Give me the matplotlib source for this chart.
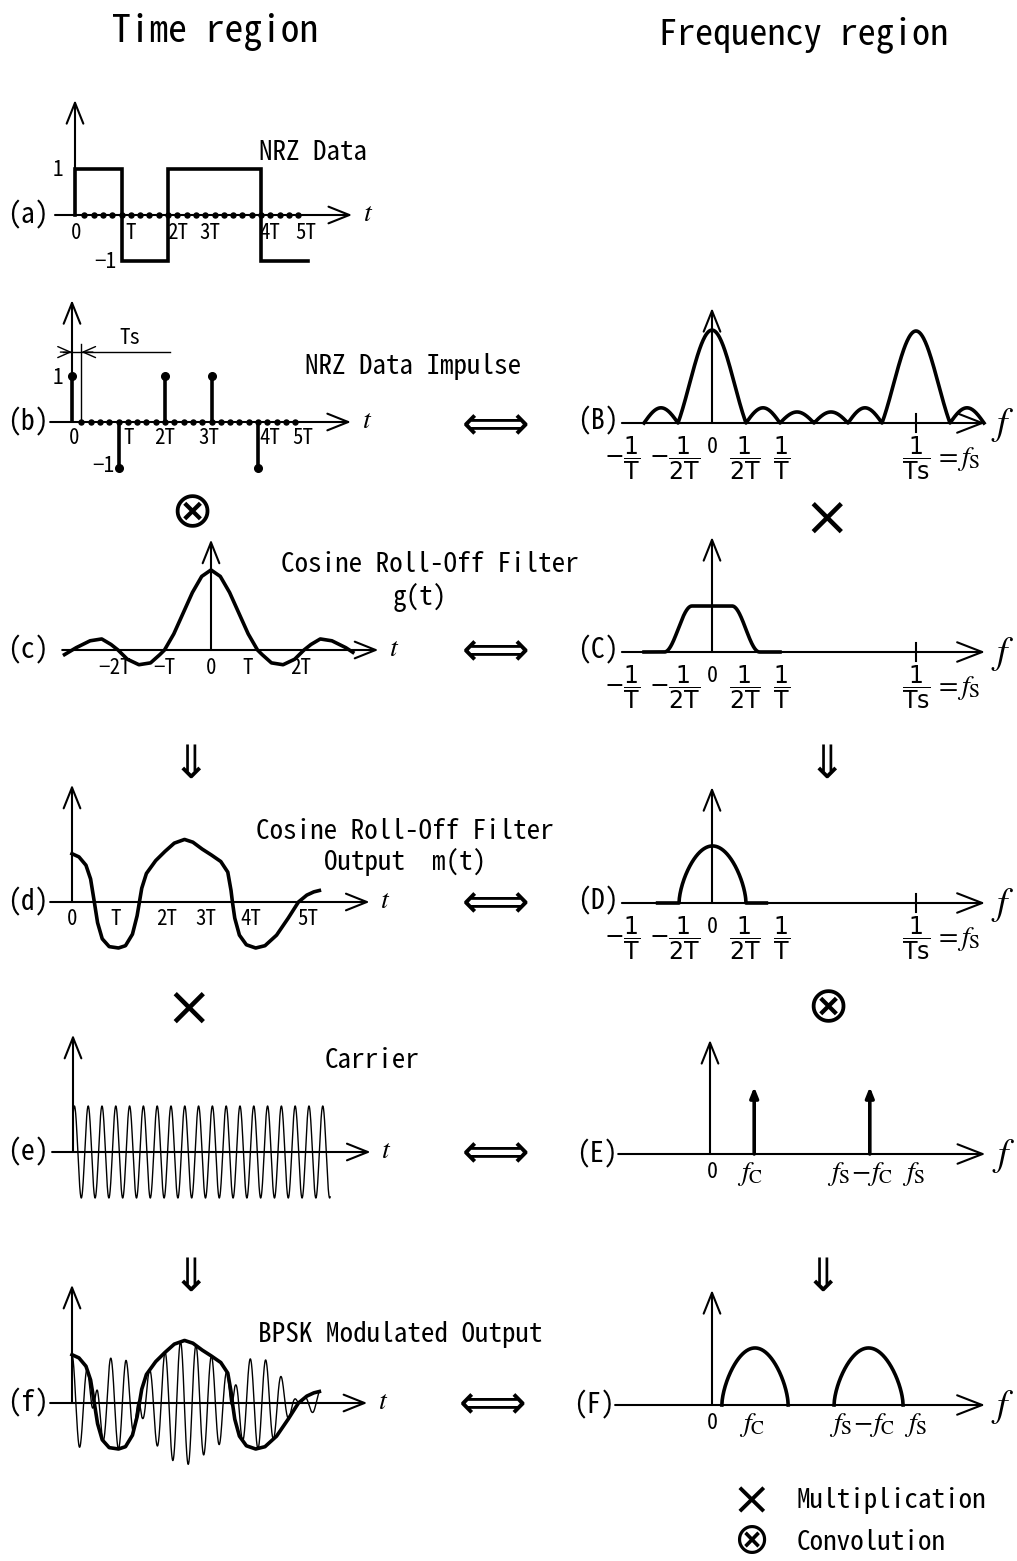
import numpy as np
import matplotlib
matplotlib.use("Agg")
import matplotlib.pyplot as plt

# ---------------- data ----------------
# NRZ symbols, one per period T
nrz_bits = [1, -1, 1, 1, -1]
samples_per_symbol = 5          # Ts = T / 5
sample_count = 24               # sample instants marked on the time axis

time_ticks = [0, 1, 2, 3, 4, 5]
time_tick_labels = ['0', 'T', '2T', '3T', '4T', '5T']
g_ticks = [-2, -1, 0, 1, 2]
g_tick_labels = ['\u22122T', '\u2212T', '0', 'T', '2T']

# cosine roll-off impulse response g(t), t in units of T
g_t = [-3.15, -2.9, -2.6, -2.35, -2.15, -2.0, -1.8, -1.55, -1.3, -1.1, -1.0,
       -0.8, -0.6, -0.4, -0.2, 0.0, 0.2, 0.4, 0.6, 0.8, 1.0, 1.1, 1.3, 1.55,
       1.8, 2.0, 2.15, 2.35, 2.6, 2.9, 3.05]
g_v = [-0.10, 0.05, 0.20, 0.24, 0.12, 0.0, -0.20, -0.32, -0.28, -0.10, 0.0,
       0.35, 0.80, 1.25, 1.60, 1.74, 1.60, 1.25, 0.80, 0.35, 0.0, -0.10, -0.28,
       -0.32, -0.20, 0.0, 0.12, 0.24, 0.20, 0.05, -0.05]

# filter output m(t), t in units of T
m_t = [0.0, 0.15, 0.3, 0.4, 0.48, 0.55, 0.65, 0.8, 1.0, 1.15, 1.3, 1.4, 1.45,
       1.5, 1.6, 1.8, 2.0, 2.2, 2.42, 2.6, 2.8, 3.0, 3.2, 3.35, 3.42, 3.45,
       3.5, 3.6, 3.75, 3.95, 4.15, 4.4, 4.65, 4.87, 5.05, 5.2, 5.32]
m_v = [1.05, 0.98, 0.80, 0.50, 0.0, -0.45, -0.80, -0.97, -1.0, -0.95, -0.70,
       -0.30, 0.0, 0.30, 0.62, 0.90, 1.10, 1.28, 1.36, 1.30, 1.15, 1.02, 0.88,
       0.65, 0.25, 0.0, -0.35, -0.72, -0.93, -1.0, -0.95, -0.72, -0.35, 0.0,
       0.15, 0.22, 0.25]

carrier_amp = 1.0
carrier_rate_e = 3.37           # carrier cycles per T, panel (e)
carrier_rate_f = 3.0            # carrier cycles per T, panel (f)
carrier_end_e = 5.53

# spectra: frequency in units of 1/(2T)
freq_tick_labels = [r'$-\dfrac{1}{\mathrm{T}}$', r'$-\dfrac{1}{\mathrm{2T}}$', '0',
                    r'$\dfrac{1}{\mathrm{2T}}$', r'$\dfrac{1}{\mathrm{T}}$',
                    r'$\dfrac{1}{\mathrm{Ts}}$']
fs_value = 6.0
spec_B_main = [(-1, 1, 2.02), (5, 7, 2.0)]
spec_B_side = [(-2, -1, 0.33), (1, 2, 0.33), (2, 3, 0.24), (3, 4, 0.24),
               (4, 5, 0.33), (7, 8, 0.33)]
rolloff_flat, rolloff_stop, rolloff_gain = 0.59, 1.40, 1.0
spec_D_lobe = (-0.97, 1.0, 1.24)
fc = 1.3
carrier_line_height = 1.46
spec_F_lobes = [(0.29, 2.24, 1.24), (3.59, 5.62, 1.24)]

# ---------------- figure ----------------
W, H, DPI = 1017, 1561, 100
GOTHIC = ['Noto Sans Mono CJK JP', 'Noto Sans CJK JP', 'DejaVu Sans']
plt.rcParams['font.family'] = GOTHIC
plt.rcParams['mathtext.fontset'] = 'dejavusans'

fig = plt.figure(figsize=(W / DPI, H / DPI), dpi=DPI)
fig.patch.set_facecolor('white')

LW_CURVE = 2.6
LW_AXIS = 1.5
LW_THIN = 1.0

# operator glyphs (mathtext keeps their boxes tight to the ink)
SYM_CONV = r'$\otimes$'
SYM_MUL = r'$\times$'
SYM_DOWN = r'$\Downarrow$'
SYM_PAIR = r'$\Longleftrightarrow$'
SIZE_CONV, SIZE_MUL, SIZE_DOWN, SIZE_PAIR = 37, 40, 33, 34


def panel(ox, oy, ux, uy):
    ax = fig.add_axes([0, 0, 1, 1])
    ax.set_xlim(-ox / ux, (W - ox) / ux)
    ax.set_ylim((oy - H) / uy, oy / uy)
    ax.axis('off')
    ax.patch.set_alpha(0)
    ax.ux, ax.uy = ux, uy
    return ax


def arrow(ax, x0, y0, x1, y1, lw=LW_AXIS, hl=0.75, hw=0.3, ms=20, style='->'):
    ax.annotate('', xy=(x1, y1), xytext=(x0, y0), annotation_clip=False,
                arrowprops=dict(arrowstyle=f'{style},head_length={hl},head_width={hw}',
                                lw=lw, color='black', shrinkA=0, shrinkB=0,
                                mutation_scale=ms))


def ftext(x, y, s, size, ha='center', va='center', **kw):
    fig.text(x / W, 1 - y / H, s, fontsize=size, ha=ha, va=va, **kw)


def symbol(x, y, s, size):
    ftext(x, y, s, size, math_fontfamily='dejavusans')


def axtext(ax, x, y_px, s, size, dx_px=0, ha='center', va='center', **kw):
    ax.text(x + dx_px / ax.ux, -y_px / ax.uy, s, fontsize=size, ha=ha, va=va, **kw)


def time_axes(ax, x0, x1, ytop):
    arrow(ax, x0, 0, x1, 0)
    arrow(ax, 0, 0, 0, ytop)
    ax.text(x1 + 16 / ax.ux, 2 / ax.uy, '$t$', fontsize=20, ha='center', va='center',
            math_fontfamily='stix')


def freq_axes(ax, x0, x1, ytop):
    arrow(ax, x0, 0, x1, 0, hl=0.9, hw=0.35)
    arrow(ax, 0, 0, 0, ytop)
    ax.text(x1 + 18 / ax.ux, -2 / ax.uy, '$f$', fontsize=27, ha='center', va='center',
            math_fontfamily='stix')


def sample_dots(ax):
    ts = np.arange(1, sample_count + 1) / samples_per_symbol
    ax.plot(ts, np.zeros_like(ts), 'o', color='black', ms=3.6, zorder=3)


TICK = 15
PLAB = 20
DESC = 19.5
UT, UA = 46.5, 46.0      # pixels per T and per unit amplitude
UF = 34.0                # pixels per 1/(2T)

# titles
ftext(215, 32, 'Time region', 27)
ftext(804, 35, 'Frequency region', 26)

# ---- (a) NRZ data ----
ax = panel(75, 215, UT, UA)
time_axes(ax, -0.43, 5.96, 2.5)
ax.plot(np.r_[0, np.arange(len(nrz_bits) + 1)],
        np.r_[0, nrz_bits, nrz_bits[-1]], drawstyle='steps-post',
        color='black', lw=LW_CURVE, solid_joinstyle='miter')
sample_dots(ax)
for v, s, dx in zip(time_ticks, time_tick_labels, [1, 9, 10, -5, 9, -2]):
    axtext(ax, v, 18, s, TICK, dx_px=dx)
axtext(ax, 0, -45, '1', TICK, dx_px=-17)
axtext(ax, 0, 47, '\u22121', TICK, dx_px=30)
ftext(28, 215, '(a)', PLAB)
ftext(313, 152, 'NRZ Data', DESC)

# ---- (b) NRZ impulses ----
ax = panel(72, 422, UT, UA)
time_axes(ax, -0.47, 6.0, 2.65)
k = np.arange(len(nrz_bits))
ax.vlines(k, 0, nrz_bits, color='black', lw=LW_CURVE)
ax.plot(k, nrz_bits, 'o', color='black', ms=5.5)
sample_dots(ax)
ts = 1 / samples_per_symbol
ax.plot([ts, ts], [0, 1.7], color='black', lw=LW_THIN)
ax.plot([-0.2, 2.1], [1.52, 1.52], color='black', lw=LW_THIN)
arrow(ax, -0.25, 1.52, 0, 1.52, lw=LW_THIN, hl=0.5, hw=0.22, ms=18)
arrow(ax, 0.45, 1.52, ts, 1.52, lw=LW_THIN, hl=0.5, hw=0.22, ms=18)
axtext(ax, 1.25, -84, 'Ts', 15)
for v, s, dx in zip(time_ticks, time_tick_labels, [2, 10, 0, -3, 12, -2]):
    axtext(ax, v, 16, s, TICK, dx_px=dx)
axtext(ax, 0, -44, '1', TICK, dx_px=-14)
axtext(ax, 1, 44, '\u22121', TICK, dx_px=-15)
ftext(28, 422, '(b)', PLAB)
ftext(413, 367, 'NRZ Data Impulse', DESC)
symbol(490, 424, SYM_PAIR, SIZE_PAIR)

# ---- (B) spectrum of the impulses ----
ax = panel(712, 423, UF, UA)
freq_axes(ax, -2.65, 8.03, 2.5)
pieces = []
for l, r, h in spec_B_side:
    x = np.linspace(l, r, 60)
    pieces.append((x, h * np.sin(np.pi * (x - l) / (r - l))))
for l, r, h in spec_B_main:
    x = np.linspace(l, r, 120)
    pieces.append((x, h * np.sinc(2 * (x - l) / (r - l) - 1)))
pieces.sort(key=lambda p: p[0][0])
ax.plot(np.concatenate([p[0] for p in pieces]), np.concatenate([p[1] for p in pieces]),
        color='black', lw=LW_CURVE)
ax.plot([fs_value, fs_value], [-0.2, 0.2], color='black', lw=LW_AXIS)
ftext(598, 421, '(B)', PLAB)


def freq_labels(ax, y_px):
    xs = [-2.64, -1.1, 0, 0.97, 2.03, fs_value]
    for x, s in zip(xs, freq_tick_labels):
        if s == '0':
            axtext(ax, x, y_px - 2, s, TICK + 1)
        else:
            axtext(ax, x, y_px + 9, s, 17, math_fontfamily='dejavusans')
    axtext(ax, fs_value, y_px + 10, r'$=f_{\mathrm{S}}$', 20, dx_px=18, ha='left',
           math_fontfamily='stix')


freq_labels(ax, 26)

# ---- operators between rows ----
symbol(190, 513, SYM_CONV, SIZE_CONV)
symbol(823, 518, SYM_MUL, SIZE_MUL)

# ---- (c) impulse response ----
ax = panel(211, 650, UT, UA)
time_axes(ax, -3.2, 3.6, 2.4)
ax.plot(g_t, g_v, color='black', lw=LW_CURVE)
for v, s, dx in zip(g_ticks, g_tick_labels, [-3, 0, 0, -10, -3]):
    axtext(ax, v, 18, s, TICK, dx_px=dx)
ftext(28, 650, '(c)', PLAB)
ftext(430, 565, 'Cosine Roll-Off Filter', DESC)
ftext(420, 597, 'g(t)', DESC)
symbol(490, 650, SYM_PAIR, SIZE_PAIR)

# ---- (C) roll-off filter spectrum ----
ax = panel(712, 652, UF, UA)
freq_axes(ax, -2.65, 8.03, 2.5)
f = np.linspace(-2.0, 2.0, 400)
af = np.abs(f)
Hf = np.where(af <= rolloff_flat, 1.0,
              np.where(af >= rolloff_stop, 0.0,
                       0.5 * (1 + np.cos(np.pi * (af - rolloff_flat) /
                                         (rolloff_stop - rolloff_flat)))))
ax.plot(f, rolloff_gain * Hf, color='black', lw=LW_CURVE)
ax.plot([fs_value, fs_value], [-0.2, 0.2], color='black', lw=LW_AXIS)
ftext(598, 650, '(C)', PLAB)
freq_labels(ax, 26)

symbol(183, 765, SYM_DOWN, SIZE_DOWN)
symbol(819, 765, SYM_DOWN, SIZE_DOWN)

# ---- (d) filter output ----
ax = panel(72, 902, UT, UA)
time_axes(ax, -0.47, 6.4, 2.55)
ax.plot(m_t, m_v, color='black', lw=LW_CURVE)
for v, s, dx in zip(time_ticks, time_tick_labels, [0, -3, 2, -6, -7, 3]):
    axtext(ax, v, 17, s, TICK, dx_px=dx)
ftext(28, 902, '(d)', PLAB)
ftext(405, 832, 'Cosine Roll-Off Filter', DESC)
ftext(405, 862, 'Output  m(t)', DESC)
symbol(490, 902, SYM_PAIR, SIZE_PAIR)

# ---- (D) filter output spectrum ----
ax = panel(712, 903, UF, UA)
freq_axes(ax, -2.65, 8.03, 2.52)
l, r, h = spec_D_lobe
x = np.linspace(l, r, 200)
y = h * np.sin(np.pi * (x - l) / (r - l)) ** 0.6
ax.plot(np.r_[-1.6, x, 1.6], np.r_[0, y, 0], color='black', lw=LW_CURVE)
ax.plot([fs_value, fs_value], [-0.2, 0.2], color='black', lw=LW_AXIS)
ftext(598, 901, '(D)', PLAB)
freq_labels(ax, 26)

symbol(185, 1008, SYM_MUL, SIZE_MUL)
symbol(826, 1008, SYM_CONV, SIZE_CONV)

# ---- (e) carrier ----
ax = panel(73, 1152, UT, UA)
time_axes(ax, -0.45, 6.4, 2.55)
t = np.linspace(0, carrier_end_e, 3000)
ax.plot(t, carrier_amp * np.cos(2 * np.pi * carrier_rate_e * (t - 0.03)),
        color='black', lw=LW_THIN)
ftext(28, 1152, '(e)', PLAB)
ftext(372, 1060, 'Carrier', DESC)
symbol(490, 1152, SYM_PAIR, SIZE_PAIR)

# ---- (E) carrier spectrum ----
ax = panel(710, 1154, UF, UA)
freq_axes(ax, -2.7, 8.1, 2.48)
for xl in [fc, fs_value - fc]:
    arrow(ax, xl, 0, xl, carrier_line_height, lw=LW_CURVE, style='-|>', hl=0.3,
          hw=0.12, ms=20)
axtext(ax, 0, 18, '0', TICK + 1, dx_px=2)
axtext(ax, fc, 20, r'$f_{\mathrm{C}}$', 20, dx_px=-4, math_fontfamily='stix')
axtext(ax, fs_value - fc, 20, r'$f_{\mathrm{S}}\!-\!f_{\mathrm{C}}$', 20, dx_px=-10,
       math_fontfamily='stix')
axtext(ax, fs_value, 20, r'$f_{\mathrm{S}}$', 20, dx_px=0, math_fontfamily='stix')
ftext(597, 1154, '(E)', PLAB)

symbol(183, 1278, SYM_DOWN, SIZE_DOWN)
symbol(815, 1278, SYM_DOWN, SIZE_DOWN)

# ---- (f) BPSK output ----
ax = panel(72, 1403, UT, UA)
time_axes(ax, -0.47, 6.35, 2.57)
t = np.linspace(m_t[0], m_t[-1], 3000)
env = np.interp(t, m_t, m_v)
ax.plot(t, env * np.cos(2 * np.pi * carrier_rate_f * t), color='black', lw=LW_THIN)
ax.plot(m_t, m_v, color='black', lw=LW_CURVE)
ftext(28, 1403, '(f)', PLAB)
ftext(400, 1335, 'BPSK Modulated Output', DESC)
symbol(487, 1403, SYM_PAIR, SIZE_PAIR)

# ---- (F) BPSK spectrum ----
ax = panel(712, 1405, UF, UA)
freq_axes(ax, -2.85, 8.03, 2.5)
for l, r, h in spec_F_lobes:
    x = np.linspace(l, r, 200)
    ax.plot(x, h * np.sin(np.pi * (x - l) / (r - l)) ** 0.6, color='black', lw=LW_CURVE)
axtext(ax, 0, 18, '0', TICK + 1)
axtext(ax, fc, 20, r'$f_{\mathrm{C}}$', 20, dx_px=-4, math_fontfamily='stix')
axtext(ax, fs_value - fc, 20, r'$f_{\mathrm{S}}\!-\!f_{\mathrm{C}}$', 20, dx_px=-10,
       math_fontfamily='stix')
axtext(ax, fs_value, 20, r'$f_{\mathrm{S}}$', 20, dx_px=0, math_fontfamily='stix')
ftext(594, 1405, '(F)', PLAB)

# ---- legend ----
symbol(749, 1500, SYM_MUL, 34)
ftext(797, 1500, 'Multiplication', DESC, ha='left')
symbol(750, 1541, SYM_CONV, 31)
ftext(797, 1542, 'Convolution', DESC, ha='left')

fig.savefig('out.png', dpi=DPI, facecolor='white')
